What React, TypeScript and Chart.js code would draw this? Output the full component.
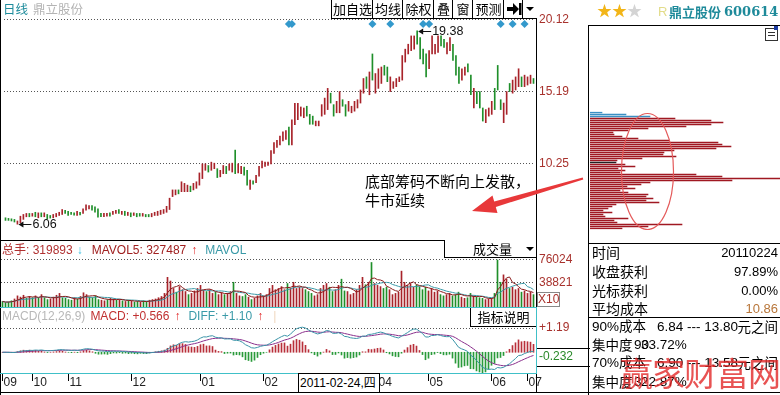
import React, { useEffect, useRef } from 'react';
import { Chart, registerables } from 'chart.js';

Chart.register(...registerables);

// ---------- data ----------
const opens = [
  6.50, 6.46, 6.43, 6.39, 6.06, 6.16, 6.39, 6.57, 6.80, 6.61,
  6.88, 6.50, 6.84, 6.57, 6.73, 6.66, 6.50, 6.57, 6.66, 6.73,
  7.02, 6.95, 6.88, 6.84, 6.66, 6.88, 6.80, 7.02, 7.11, 7.34,
  7.25, 7.11, 6.80, 6.57, 6.61, 6.84, 6.73, 6.80, 7.07, 6.73,
  6.95, 6.66, 6.84, 6.66, 6.80, 6.80, 6.61, 6.73, 6.73, 6.57,
  6.66, 6.66, 6.73, 6.80, 6.88, 7.07,
  7.96, 8.08, 8.42, 8.30, 8.30, 8.30, 8.68, 8.42, 8.53, 8.75,
  9.20, 9.77, 10.10, 9.77, 9.88, 9.88, 9.32, 9.54, 10.04, 9.77,
  9.65, 11.16, 9.59, 9.54, 9.99, 9.77, 8.46, 9.05, 8.91, 9.36,
  9.94, 10.04, 10.10, 10.21, 10.94, 11.34, 11.52, 11.79, 11.90, 12.74,
  11.52, 12.92, 13.25,
  13.50, 13.39, 14.18, 13.62, 13.50, 12.83, 12.83, 13.50, 13.62, 13.95,
  15.08, 14.29, 13.73, 13.73, 14.63, 14.29, 13.84, 13.73, 13.84, 14.06,
  14.40, 15.08, 16.20, 14.97, 17.78, 15.08, 15.41, 15.75, 16.99, 16.88,
  15.19, 15.41, 15.53, 15.87, 15.98, 17.22, 17.78, 18.01, 18.11, 19.38,
  18.90, 18.11, 17.78, 16.76,
  17.78, 17.78, 17.89, 19.02, 18.79, 17.78, 18.01, 18.45, 17.67, 16.88,
  15.98, 16.32, 17.10, 16.32, 14.06, 15.19, 15.19, 14.06, 13.05, 13.50,
  13.62, 15.41, 16.99, 14.63, 13.05, 13.62, 15.75, 15.08, 15.30, 15.53,
  16.20, 15.53, 15.64, 15.75, 16.09,
];
const closes = [
  6.32, 6.32, 6.28, 6.21, 6.28, 6.61, 6.73, 6.80, 6.57, 6.80,
  6.57, 6.84, 6.57, 6.84, 6.43, 6.48, 6.73, 6.80, 6.88, 7.07,
  6.80, 6.66, 6.73, 6.68, 6.95, 6.70, 7.11, 7.40, 7.34, 7.02,
  6.88, 6.55, 6.57, 6.80, 6.80, 6.61, 6.95, 7.02, 6.80, 6.95,
  6.66, 6.88, 6.57, 6.84, 6.57, 6.61, 6.80, 6.57, 6.57, 6.80,
  6.88, 6.95, 7.02, 7.07, 7.29, 7.85,
  8.42, 8.42, 8.15, 8.98, 8.87, 8.75, 8.30, 8.87, 8.98, 9.59,
  10.21, 10.21, 9.65, 10.33, 10.26, 9.27, 9.77, 10.10, 9.54, 10.21,
  10.26, 9.54, 10.21, 10.04, 9.43, 8.75, 9.09, 8.82, 9.43, 10.04,
  10.40, 10.33, 10.33, 11.12, 11.68, 11.83, 12.13, 12.42, 12.51, 11.52,
  13.25, 14.38, 14.38,
  14.13, 14.06, 13.50, 12.94, 12.94, 13.16, 13.16, 14.29, 14.74, 15.41,
  14.40, 13.50, 14.52, 15.19, 14.18, 13.50, 14.52, 14.18, 14.52, 14.63,
  15.30, 16.09, 15.41, 16.54, 15.98, 16.43, 16.76, 16.88, 16.32, 15.87,
  16.20, 15.87, 16.09, 16.20, 17.67, 18.11, 18.45, 19.02, 19.02, 18.45,
  17.44, 17.10, 16.20, 18.01,
  19.02, 18.45, 19.02, 18.34, 18.23, 18.57, 18.90, 17.33, 16.32, 15.75,
  16.76, 16.88, 16.54, 14.97, 15.41, 14.36, 14.06, 13.16, 13.95, 14.06,
  14.52, 13.95, 15.30, 13.95, 14.40, 15.19, 15.19, 15.98, 16.20, 16.76,
  15.53, 16.32, 16.20, 16.32, 15.75,
];
const volumes = [
  9000, 7000, 8000, 10000, 13000, 18000, 16000, 19000, 14000, 17000,
  15000, 18000, 14000, 20000, 15000, 12000, 13000, 16000, 19000, 22000,
  15000, 14000, 12000, 11000, 15000, 13000, 17000, 23000, 20000, 16000,
  15000, 18000, 12000, 11000, 10000, 12000, 14000, 13000, 11000, 12000,
  10000, 9000, 11000, 10000, 8000, 9000, 8000, 10000, 9000, 11000,
  12000, 13000, 15000, 17000, 22000, 48000,
  42000, 30000, 24000, 33000, 28000, 25000, 20000, 22000, 26000, 30000,
  35000, 27000, 25000, 28000, 22000, 24000, 20000, 23000, 20000, 22000,
  25000, 40000, 22000, 18000, 17000, 20000, 16000, 12000, 14000, 18000,
  22000, 18000, 20000, 30000, 35000, 28000, 30000, 33000, 28000, 38000,
  30000, 40000, 30000,
  32000, 30000, 28000, 25000, 22000, 18000, 20000, 30000, 35000, 38000,
  32000, 25000, 28000, 35000, 45000, 26000, 25000, 20000, 22000, 28000,
  35000, 48000, 36000, 40000, 72000, 38000, 35000, 33000, 30000, 32000,
  28000, 20000, 22000, 24000, 58000, 40000, 35000, 38000, 32000, 36000,
  33000, 28000, 32000, 26000,
  30000, 24000, 26000, 20000, 18000, 20000, 22000, 18000, 20000, 24000,
  16000, 14000, 15000, 22000, 18000, 16000, 15000, 14000, 12000, 13000,
  14000, 22000, 76000, 40000, 52000, 45000, 30000, 32000, 28000, 30000,
  24000, 26000, 22000, 24000, 20000,
];
const priceTicks = [20.12, 15.19, 10.25];
const volumeTicks = [76024, 38821];
const macdTicks = [1.19];
const macdLastLabel = -0.232;
const monthLabels = ['09', '10', '11', '12', '01', '02', '04', '05', '06', '07'];
const monthStarts = [0, 10, 22, 43, 66, 87, 125, 142, 163, 175];
const markerDays = [95, 96, 123, 129, 140, 142, 166, 170, 174];
const markerPrice = 19.85;
const chipVolumes = [
  12, 36, 60, 85, 121, 133, 121, 96, 58, 38,
  23, 24, 32, 48, 79, 128, 132, 141, 126, 84,
  74, 73, 86, 52, 27, 26, 35, 45, 28, 35,
  30, 106, 132, 190, 142, 60, 51, 37, 45, 30,
  38, 58, 56, 63, 56, 69, 26, 22, 18, 13,
  22, 13, 15, 38, 24, 27, 92, 58, 32,
];
const chipBlueRows = 3;
const chipCostRow = 25;

// ---------- derived ----------
const RED = '#a8232a';
const GREEN = '#1f8f2a';
const days = opens.map((_, i) => String(i + 1));
const candleColors = opens.map((o, i) => (closes[i] >= o ? RED : GREEN));
const candleData = opens.map((o, i) => [o, closes[i]]);
const markerData = days.map((_, i) => (markerDays.includes(i) ? markerPrice : null));

function movingAverage(values: number[], n: number) {
  return values.map((_, i) => {
    const s = values.slice(Math.max(0, i - n + 1), i + 1);
    return s.reduce((a, b) => a + b, 0) / s.length;
  });
}
function ema(values: number[], n: number) {
  const k = 2 / (n + 1);
  const out: number[] = [];
  values.forEach((v, i) => out.push(i === 0 ? v : out[i - 1] + k * (v - out[i - 1])));
  return out;
}
const ma5 = movingAverage(volumes, 5);
const ma10 = movingAverage(volumes, 10);
const ema12 = ema(closes, 12);
const ema26 = ema(closes, 26);
const diff = closes.map((_, i) => ema12[i] - ema26[i]);
const dea = ema(diff, 9);
const macd = diff.map((d, i) => 2 * (d - dea[i]));

const NUMFONT = '"Liberation Sans", Arial, sans-serif';
const FONT = '"Liberation Sans", "Noto Sans CJK SC", Arial, sans-serif';
const CJK = '"Noto Sans CJK SC", "Liberation Sans", sans-serif';

function xScale() {
  return { type: 'category', display: false, offset: true, grid: { display: false } };
}
function yScale(min: number, max: number, ticks: number[]) {
  return {
    type: 'linear',
    position: 'right',
    min,
    max,
    afterBuildTicks: (s: any) => {
      s.ticks = ticks.map((v) => ({ value: v }));
    },
    ticks: { display: false },
    grid: { color: '#555', drawTicks: false, lineWidth: 1 },
    border: { display: false, dash: [1, 2] },
  };
}
function axisLabels(items: { value: number; text: string; color: string }[]) {
  return {
    id: 'axisLabels',
    afterDraw(chart: any) {
      const { ctx, chartArea, scales } = chart;
      ctx.save();
      ctx.font = '12px ' + NUMFONT;
      ctx.textAlign = 'left';
      ctx.textBaseline = 'middle';
      items.forEach((it) => {
        ctx.fillStyle = it.color;
        ctx.fillText(it.text, chartArea.right + 4, scales.y.getPixelForValue(it.value));
      });
      ctx.restore();
    },
  };
}
const extremes = {
  id: 'extremes',
  afterDatasetsDraw(chart: any) {
    const { ctx } = chart;
    const x = chart.scales.x;
    const y = chart.scales.y;
    const highs = opens.map((o, i) => Math.max(o, closes[i]));
    const lows = opens.map((o, i) => Math.min(o, closes[i]));
    const hi = highs.indexOf(Math.max(...highs));
    const lo = lows.indexOf(Math.min(...lows));
    const marks: [number, number][] = [
      [hi, highs[hi]],
      [lo, lows[lo]],
    ];
    ctx.save();
    ctx.fillStyle = '#111';
    ctx.strokeStyle = '#111';
    ctx.lineWidth = 1;
    ctx.font = '12.5px ' + NUMFONT;
    ctx.textBaseline = 'middle';
    marks.forEach(([i, v]) => {
      const px = x.getPixelForValue(i) + 1;
      const py = Math.round(y.getPixelForValue(v)) + 0.5;
      ctx.beginPath();
      ctx.moveTo(px, py);
      ctx.lineTo(px + 5, py - 3);
      ctx.lineTo(px + 5, py + 3);
      ctx.closePath();
      ctx.fill();
      ctx.beginPath();
      ctx.moveTo(px + 4, py);
      ctx.lineTo(px + 13, py);
      ctx.stroke();
      ctx.fillText(v.toFixed(2), px + 14, py);
    });
    ctx.restore();
  },
};
const monthAxis = {
  id: 'monthAxis',
  afterDraw(chart: any) {
    const { ctx, chartArea } = chart;
    const x = chart.scales.x;
    ctx.save();
    ctx.strokeStyle = '#000';
    ctx.fillStyle = '#222';
    ctx.lineWidth = 1;
    ctx.font = '12px ' + NUMFONT;
    ctx.textBaseline = 'middle';
    ctx.textAlign = 'left';
    monthStarts.forEach((d, k) => {
      const px = Math.floor(x.getPixelForValue(d)) + 0.5;
      ctx.beginPath();
      ctx.moveTo(px, chartArea.bottom + 1);
      ctx.lineTo(px, chartArea.bottom + 8);
      ctx.stroke();
      ctx.fillText(monthLabels[k], px + 1, chartArea.bottom + 10);
    });
    ctx.restore();
  },
};
const ellipsePlugin = {
  id: 'ellipse',
  afterDraw(chart: any) {
    const { ctx } = chart;
    ctx.save();
    ctx.strokeStyle = '#e45a5a';
    ctx.lineWidth = 1.2;
    ctx.beginPath();
    ctx.ellipse(57.5, 60.5, 26, 58, 0, 0, Math.PI * 2);
    ctx.stroke();
    ctx.restore();
  },
};

const baseOptions = (padding: any) => ({
  responsive: false,
  animation: false,
  events: [],
  layout: { padding },
  plugins: { legend: { display: false }, tooltip: { enabled: false } },
});

function Line({ l, t, w, h, c = '#000' }: any) {
  return <div style={{ position: 'absolute', left: l, top: t, width: w, height: h, background: c }} />;
}
function T({ x, y, size = 12, color = '#000', font = FONT, bold = false, right, children }: any) {
  return (
    <div
      style={{
        position: 'absolute',
        left: right === undefined ? x : undefined,
        right,
        top: y,
        fontSize: size,
        lineHeight: `${size + 2}px`,
        color,
        fontFamily: font,
        fontWeight: bold ? 700 : 400,
        whiteSpace: 'nowrap',
      }}
    >
      {children}
    </div>
  );
}
function Btn({ l, w, children }: any) {
  return (
    <div
      style={{
        position: 'absolute',
        left: l,
        top: 0,
        width: w,
        height: 18,
        borderLeft: '1px solid #000',
        borderBottom: '1px solid #000',
        fontFamily: CJK,
        fontSize: 13,
        lineHeight: '18px',
        textAlign: 'center',
        color: '#000',
        background: '#fff',
      }}
    >
      {children}
    </div>
  );
}

export default function App() {
  const priceRef = useRef<HTMLCanvasElement>(null);
  const volRef = useRef<HTMLCanvasElement>(null);
  const macdRef = useRef<HTMLCanvasElement>(null);
  const chipRef = useRef<HTMLCanvasElement>(null);

  useEffect(() => {
    const charts: any[] = [];
    charts.push(
      new Chart(priceRef.current as any, {
        type: 'bar',
        data: {
          labels: days,
          datasets: [
            {
              type: 'line',
              data: markerData,
              showLine: false,
              pointStyle: 'rectRot',
              pointRadius: 4,
              pointBackgroundColor: '#3399cc',
              pointBorderWidth: 0,
            },
            { type: 'bar', data: candleData, backgroundColor: candleColors, barThickness: 1, borderWidth: 0 },
          ],
        } as any,
        options: {
          ...baseOptions({ left: 1, right: 54, top: 18, bottom: 0 }),
          scales: { x: xScale(), y: yScale(5.247, 20.255, priceTicks) },
        } as any,
        plugins: [axisLabels(priceTicks.map((v) => ({ value: v, text: v.toFixed(2), color: '#a8322d' }))), extremes],
      })
    );
    charts.push(
      new Chart(volRef.current as any, {
        type: 'bar',
        data: {
          labels: days,
          datasets: [
            { type: 'line', data: ma5, borderColor: '#8b1c1c', borderWidth: 1, pointRadius: 0 },
            { type: 'line', data: ma10, borderColor: '#3a9aa8', borderWidth: 1, pointRadius: 0 },
            { type: 'bar', data: volumes, backgroundColor: candleColors, barThickness: 1, borderWidth: 0 },
          ],
        } as any,
        options: {
          ...baseOptions({ left: 1, right: 54, top: 0, bottom: 0 }),
          scales: { x: xScale(), y: yScale(0, 108373, volumeTicks) },
        } as any,
        plugins: [axisLabels(volumeTicks.map((v) => ({ value: v, text: String(v), color: '#a8322d' })))],
      })
    );
    charts.push(
      new Chart(macdRef.current as any, {
        type: 'bar',
        data: {
          labels: days,
          datasets: [
            { type: 'line', data: diff, borderColor: '#3a94a8', borderWidth: 1, pointRadius: 0 },
            { type: 'line', data: dea, borderColor: '#8a2f8c', borderWidth: 1, pointRadius: 0 },
            {
              type: 'bar',
              data: macd,
              backgroundColor: macd.map((v) => (v >= 0 ? '#b8303a' : '#2a9a3a')),
              barThickness: 1,
              borderWidth: 0,
            },
          ],
        } as any,
        options: {
          ...baseOptions({ left: 1, right: 54, top: 0, bottom: 19 }),
          scales: { x: xScale(), y: yScale(-1.016, 2.22, macdTicks) },
        } as any,
        plugins: [
          axisLabels([
            ...macdTicks.map((v) => ({ value: v, text: '+' + v.toFixed(2), color: '#a8322d' })),
            { value: macdLastLabel, text: macdLastLabel.toFixed(3), color: '#2a8a2a' },
          ]),
          monthAxis,
        ],
      })
    );
    charts.push(
      new Chart(chipRef.current as any, {
        type: 'bar',
        data: {
          labels: chipVolumes.map((_, i) => 'r' + i),
          datasets: [
            {
              data: chipVolumes,
              backgroundColor: chipVolumes.map((_, i) =>
                i < chipBlueRows ? '#3a8fc4' : i === chipCostRow ? '#222' : '#a01822'
              ),
              barThickness: 1,
              borderWidth: 0,
            },
          ],
        } as any,
        options: {
          ...baseOptions({ left: 0, right: 0, top: 0.5, bottom: 0.5 }),
          indexAxis: 'y',
          scales: {
            y: { type: 'category', display: false, offset: true },
            x: { type: 'linear', display: false, min: 0, max: 190 },
          },
        } as any,
        plugins: [ellipsePlugin],
      })
    );
    return () => charts.forEach((c) => c.destroy());
  }, []);

  return (
    <div
      style={{
        position: 'fixed',
        left: 0,
        top: 0,
        width: 780,
        height: 395,
        background: '#fff',
        overflow: 'hidden',
        fontFamily: FONT,
      }}
    >
      <canvas ref={priceRef} width={589} height={240} style={{ position: 'absolute', left: 0, top: 0 }} />
      <canvas ref={volRef} width={589} height={67} style={{ position: 'absolute', left: 0, top: 240 }} />
      <canvas ref={macdRef} width={589} height={85} style={{ position: 'absolute', left: 0, top: 307 }} />
      <canvas ref={chipRef} width={190} height={119} style={{ position: 'absolute', left: 590, top: 111 - 60 + 60 }} />

      {/* frame lines */}
      <Line l={0} t={0} w={1} h={395} />
      <Line l={536} t={0} w={1} h={307} />
      <Line l={536} t={307} w={1} h={66} c="#40c0c8" />
      <Line l={536} t={373} w={1} h={19} />
      <Line l={588} t={25} w={1} h={370} />
      <Line l={0} t={240} w={537} h={1} />
      <Line l={0} t={307} w={537} h={1} c="#40c0c8" />
      <Line l={0} t={373} w={537} h={1} c="#40c0c8" />
      <Line l={0} t={392} w={780} h={1} />
      <Line l={588} t={25} w={192} h={1} />
      <Line l={588} t={243} w={192} h={1} />
      <Line l={588} t={317} w={192} h={1} />

      {/* header */}
      <T x={3} y={2} size={12.5} color="#1e8c9c" font={CJK}>日线</T>
      <T x={33} y={2} size={12.5} color="#b4b4b4" font={CJK}>鼎立股份</T>
      <Btn l={331} w={41}>加自选</Btn>
      <Btn l={372} w={30}>均线</Btn>
      <Btn l={402} w={31}>除权</Btn>
      <Btn l={433} w={19}>叠</Btn>
      <Btn l={452} w={20}>窗</Btn>
      <Btn l={472} w={31}>预测</Btn>
      <Btn l={503} w={19}>
        <svg width={16} height={14} style={{ marginTop: 2 }}>
          <polygon points="1,5 7,5 7,1 13,7 7,13 7,9 1,9" fill="#000" />
          <rect x={13} y={1} width={2.5} height={12} fill="#000" />
        </svg>
      </Btn>
      <Btn l={522} w={14}>
        <svg width={10} height={10} style={{ marginTop: 4 }}>
          <polygon points="1,3 9,3 5,7" fill="#000" />
        </svg>
      </Btn>

      {/* volume header */}
      <div
        style={{
          position: 'absolute',
          left: 2,
          top: 243,
          fontSize: 12,
          lineHeight: '14px',
          fontFamily: FONT,
          whiteSpace: 'nowrap',
        }}
      >
        <span style={{ color: '#b03030' }}>总手: 319893</span>
        <span style={{ color: '#40c0e0', fontWeight: 700, marginLeft: 4 }}>↓</span>
        <span style={{ color: '#a02020', marginLeft: 9 }}>MAVOL5: 327487</span>
        <span style={{ color: '#e02020', fontWeight: 700, marginLeft: 5 }}>↑</span>
        <span style={{ color: '#3a9aa8', marginLeft: 8 }}>MAVOL</span>
      </div>
      <div
        style={{
          position: 'absolute',
          left: 444,
          top: 240,
          width: 91,
          height: 17,
          borderLeft: '1px solid #000',
          borderBottom: '1px solid #000',
          background: '#fff',
          fontFamily: CJK,
          fontSize: 13,
          lineHeight: '17px',
        }}
      >
        <span style={{ position: 'absolute', left: 28 }}>成交量</span>
        <svg width={10} height={10} style={{ position: 'absolute', left: 80, top: 4 }}>
          <polygon points="1,3 9,3 5,7" fill="#000" />
        </svg>
      </div>
      <div
        style={{
          position: 'absolute',
          left: 537,
          top: 292,
          width: 21,
          height: 13,
          border: '1px solid #888',
          color: '#a8322d',
          fontFamily: NUMFONT,
          fontSize: 12,
          lineHeight: '13px',
          textAlign: 'center',
        }}
      >
        X10
      </div>

      {/* MACD header */}
      <div
        style={{
          position: 'absolute',
          left: 2,
          top: 309,
          fontSize: 12,
          lineHeight: '14px',
          fontFamily: FONT,
          whiteSpace: 'nowrap',
        }}
      >
        <span style={{ color: '#b8b8b8' }}>MACD(12,26,9)</span>
        <span style={{ color: '#c03030', marginLeft: 5 }}>MACD: +0.566</span>
        <span style={{ color: '#e02020', fontWeight: 700, marginLeft: 5 }}>↑</span>
        <span style={{ color: '#3a9aa8', marginLeft: 8 }}>DIFF: +1.10</span>
        <span style={{ color: '#e02020', fontWeight: 700, marginLeft: 5 }}>↑</span>
        <span style={{ color: '#f0d8c0', marginLeft: 10 }}>|</span>
      </div>
      <div
        style={{
          position: 'absolute',
          left: 470,
          top: 308,
          width: 65,
          height: 18,
          borderLeft: '1px solid #000',
          borderBottom: '1px solid #000',
          background: '#fff',
          fontFamily: CJK,
          fontSize: 13,
          lineHeight: '18px',
          textAlign: 'center',
        }}
      >
        指标说明
      </div>
      <Line l={537} t={348} w={53} h={1} />
      <Line l={537} t={366} w={53} h={1} />

      {/* date cursor box */}
      <div
        style={{
          position: 'absolute',
          left: 298,
          top: 373,
          width: 79,
          height: 18,
          border: '1px solid #000',
          background: '#fff',
          fontFamily: FONT,
          fontSize: 12,
          lineHeight: '18px',
          paddingLeft: 1,
          whiteSpace: 'nowrap',
        }}
      >
        2011-02-24,四
      </div>

      {/* annotation */}
      <T x={365} y={172} size={15} font={CJK}>底部筹码不断向上发散，</T>
      <T x={365} y={191} size={15} font={CJK}>牛市延续</T>
      <svg width={780} height={395} style={{ position: 'absolute', left: 0, top: 0, pointerEvents: 'none' }}>
        <polygon
          points="582.7,177.5 583.3,179.5 495.8,206.9 497.5,212.9 472,211 492.5,195.6 494.2,201.6"
          fill="#e8383a"
        />
      </svg>

      {/* right panel header */}
      <div style={{ position: 'absolute', left: 597, top: 2, fontSize: 15, lineHeight: '17px', whiteSpace: 'nowrap' }}>
        <span style={{ color: '#f2b518' }}>★★</span>
        <span style={{ color: '#d4d4d4' }}>★</span>
      </div>
      <T x={658} y={4} size={13} color="#e2dc8a" font={NUMFONT}>R</T>
      <T x={669} y={4} size={13} color="#1e8a9a" font={CJK} bold>鼎立股份</T>
      <T x={724} y={4} size={13} color="#1e8a9a" font={'"DejaVu Serif", serif'} bold>600614</T>
      <div
        style={{
          position: 'absolute',
          left: 765,
          top: 28,
          width: 11,
          height: 11,
          border: '1px solid #333',
          background: '#fff',
        }}
      >
        <div style={{ position: 'absolute', left: 2, top: 3, width: 7, height: 1, background: '#333' }} />
        <div style={{ position: 'absolute', left: 2, top: 6, width: 7, height: 1, background: '#333' }} />
        <div style={{ position: 'absolute', left: 8, top: -3, width: 4, height: 4, background: '#1a3aa0' }} />
      </div>

      {/* info table */}
      <T x={592} y={244} size={14} font={CJK}>时间</T>
      <T right={2} y={245} size={13} font={NUMFONT}>20110224</T>
      <T x={592} y={263} size={14} font={CJK}>收盘获利</T>
      <T right={2} y={264} size={13} font={NUMFONT}>97.89%</T>
      <T x={592} y={282} size={14} font={CJK}>光标获利</T>
      <T right={2} y={283} size={13} font={NUMFONT}>0.00%</T>
      <T x={592} y={300} size={14} font={CJK}>平均成本</T>
      <T right={2} y={301} size={13} color="#b8763a" font={NUMFONT}>10.86</T>
      <T x={592} y={319} size={13.5}>90%成本</T>
      <T x={657} y={319} size={13.5} font={NUMFONT}>6.84 --- 13.80</T>
      <T right={2} y={319} size={13.5} font={CJK}>元之间</T>
      <T x={592} y={337} size={13.5} font={CJK}>集中度</T>
      <T x={634} y={337} size={13.5} font={NUMFONT}>90</T>
      <T x={641} y={337} size={13.5} font={NUMFONT}>33.72%</T>
      <T x={592} y={355} size={13.5}>70%成本</T>
      <T x={657} y={355} size={13.5} font={NUMFONT}>6.90 --- 13.58</T>
      <T right={2} y={355} size={13.5} font={CJK}>元之间</T>
      <T x={592} y={374} size={13.5} font={CJK}>集中度</T>
      <T x={634} y={374} size={13.5} font={NUMFONT}>3</T>
      <T x={641} y={374} size={13.5} font={NUMFONT}>22.87%</T>
      <div
        style={{
          position: 'absolute',
          left: 620,
          top: 352,
          fontSize: 33,
          lineHeight: '40px',
          color: 'rgba(226,40,40,0.8)',
          fontFamily: CJK,
          letterSpacing: -1,
          whiteSpace: 'nowrap',
        }}
      >
        赢家财富网
      </div>
    </div>
  );
}
